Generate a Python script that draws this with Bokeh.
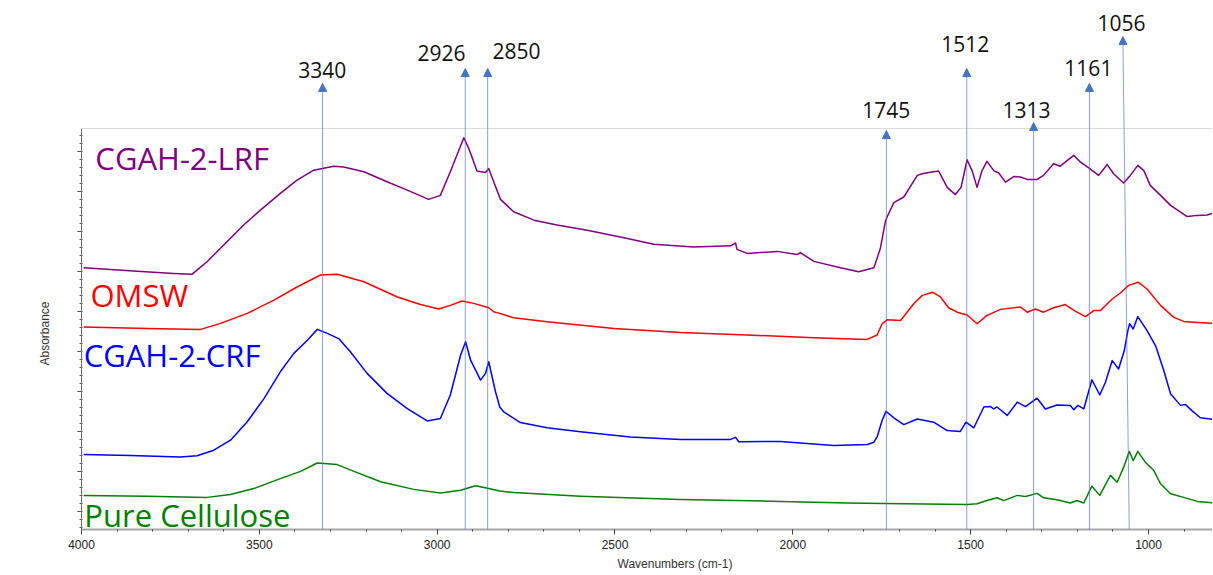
from bokeh.plotting import figure
from bokeh.models import (Range1d, FixedTicker, Span, Arrow, NormalHead, Title,
                          ColumnDataSource, CustomJSTickFormatter)
from bokeh.core.properties import value
from bokeh.embed import file_html
from bokeh.resources import INLINE

# ---------------- data (wavenumber cm-1, absorbance a.u.) ----------------
lrf_wn = [3994, 3854, 3741, 3689, 3647, 3600, 3544, 3497, 3441, 3394,
          3347, 3291, 3263, 3206, 3141, 3084, 3024, 2991, 2963, 2925,
          2911, 2888, 2864, 2855, 2841, 2822, 2785, 2728, 2663, 2578,
          2475, 2391, 2279, 2175, 2161, 2157, 2128, 2044, 1988, 1979,
          1941, 1866, 1815, 1772, 1754, 1740, 1735, 1716, 1688, 1650,
          1636, 1613, 1590, 1566, 1543, 1527, 1510, 1496, 1482, 1468,
          1454, 1435, 1421, 1402, 1379, 1360, 1341, 1313, 1295, 1267,
          1248, 1229, 1210, 1191, 1168, 1140, 1116, 1098, 1070, 1051,
          1030, 1013, 995, 966, 938, 910, 891, 863, 835, 817]
lrf_abs = [0.610, 0.602, 0.596, 0.594, 0.625, 0.667, 0.717, 0.754, 0.796, 0.829,
           0.854, 0.864, 0.862, 0.850, 0.825, 0.804, 0.781, 0.791, 0.850, 0.935,
           0.908, 0.852, 0.848, 0.858, 0.825, 0.781, 0.750, 0.729, 0.717, 0.704,
           0.685, 0.669, 0.662, 0.665, 0.672, 0.656, 0.646, 0.651, 0.643, 0.648,
           0.626, 0.610, 0.600, 0.610, 0.658, 0.725, 0.737, 0.773, 0.787, 0.841,
           0.845, 0.849, 0.852, 0.811, 0.793, 0.811, 0.880, 0.853, 0.811, 0.853,
           0.876, 0.853, 0.847, 0.824, 0.838, 0.837, 0.831, 0.831, 0.841, 0.870,
           0.864, 0.878, 0.891, 0.874, 0.860, 0.841, 0.868, 0.845, 0.822, 0.841,
           0.866, 0.853, 0.816, 0.791, 0.766, 0.749, 0.738, 0.741, 0.742, 0.747]

omsw_wn = [3994, 3815, 3665, 3609, 3534, 3459, 3394, 3328, 3281, 3206,
           3112, 3047, 2995, 2963, 2930, 2897, 2855, 2841, 2824, 2785,
           2691, 2503, 2316, 2128, 1941, 1791, 1763, 1749, 1740, 1735,
           1697, 1660, 1636, 1607, 1585, 1562, 1538, 1510, 1482, 1454,
           1416, 1360, 1341, 1318, 1295, 1267, 1234, 1205, 1177, 1154,
           1135, 1102, 1079, 1056, 1029, 1004, 966, 929, 901, 873, 817]
omsw_abs = [0.462, 0.458, 0.456, 0.471, 0.496, 0.529, 0.562, 0.592, 0.594, 0.575,
            0.537, 0.518, 0.507, 0.516, 0.527, 0.521, 0.510, 0.500, 0.496, 0.485,
            0.475, 0.458, 0.448, 0.442, 0.435, 0.431, 0.442, 0.470, 0.476, 0.480,
            0.478, 0.520, 0.541, 0.549, 0.537, 0.510, 0.499, 0.492, 0.470, 0.491,
            0.506, 0.512, 0.499, 0.507, 0.499, 0.510, 0.518, 0.501, 0.488, 0.503,
            0.503, 0.532, 0.547, 0.566, 0.574, 0.557, 0.516, 0.486, 0.476, 0.474, 0.471]

crf_wn = [3994, 3862, 3722, 3675, 3628, 3581, 3534, 3487, 3441, 3403,
          3365, 3337, 3309, 3277, 3244, 3197, 3141, 3084, 3028, 2991,
          2963, 2934, 2920, 2906, 2878, 2864, 2855, 2836, 2824, 2813,
          2766, 2691, 2597, 2457, 2316, 2175, 2161, 2152, 2035, 1885,
          1791, 1772, 1763, 1749, 1738, 1716, 1688, 1650, 1604, 1566,
          1529, 1513, 1491, 1463, 1444, 1435, 1426, 1397, 1369, 1346,
          1313, 1290, 1257, 1220, 1210, 1199, 1182, 1159, 1137, 1121,
          1102, 1084, 1068, 1058, 1053, 1043, 1030, 1004, 980, 957,
          938, 910, 896, 878, 854, 817]
crf_abs = [0.143, 0.141, 0.137, 0.140, 0.154, 0.179, 0.225, 0.283, 0.350, 0.396,
           0.429, 0.456, 0.446, 0.433, 0.400, 0.346, 0.296, 0.258, 0.227, 0.233,
           0.292, 0.392, 0.425, 0.379, 0.329, 0.346, 0.375, 0.300, 0.262, 0.250,
           0.223, 0.210, 0.200, 0.187, 0.181, 0.181, 0.186, 0.175, 0.176, 0.166,
           0.168, 0.174, 0.187, 0.228, 0.251, 0.235, 0.218, 0.232, 0.224, 0.203,
           0.201, 0.224, 0.210, 0.262, 0.263, 0.257, 0.262, 0.241, 0.274, 0.263,
           0.284, 0.257, 0.267, 0.266, 0.255, 0.266, 0.257, 0.330, 0.292, 0.324,
           0.378, 0.357, 0.403, 0.453, 0.470, 0.457, 0.488, 0.453, 0.415, 0.353,
           0.295, 0.266, 0.268, 0.253, 0.235, 0.231]

cel_wn = [3994, 3815, 3647, 3581, 3516, 3441, 3384, 3337, 3281, 3234,
          3159, 3066, 2991, 2934, 2892, 2855, 2824, 2785, 2597, 2316,
          2035, 1847, 1744, 1510, 1482, 1454, 1426, 1407, 1369, 1346,
          1313, 1295, 1257, 1220, 1201, 1182, 1159, 1137, 1107, 1088,
          1070, 1054, 1043, 1030, 1009, 985, 966, 938, 901, 863, 817]
cel_abs = [0.041, 0.039, 0.036, 0.043, 0.058, 0.083, 0.101, 0.122, 0.118, 0.101,
           0.075, 0.056, 0.047, 0.054, 0.065, 0.058, 0.052, 0.048, 0.039, 0.031,
           0.026, 0.022, 0.021, 0.018, 0.020, 0.028, 0.035, 0.028, 0.041, 0.038,
           0.046, 0.035, 0.030, 0.022, 0.028, 0.022, 0.064, 0.041, 0.091, 0.074,
           0.111, 0.151, 0.128, 0.151, 0.124, 0.103, 0.070, 0.045, 0.036, 0.026, 0.022]

series_names = ["CGAH-2-LRF", "OMSW", "CGAH-2-CRF", "Pure Cellulose"]
series_colors = ["#800080", "#ff0000", "#0000ff", "#008000"]

# peak annotations
peak_labels = ["3340", "2926", "2850", "1745", "1512", "1313", "1161", "1056"]

x_ticks = [4000, 3500, 3000, 2500, 2000, 1500, 1000]

# ---------------- layout (positions of labels / arrows) ----------------
name_x = [3961, 3975, 3994, 3992]
name_y = [0.8845, 0.543, 0.392, -0.009]
arrow_top_x = [3322, 2921, 2858, 1737, 1511, 1323, 1166, 1072]
arrow_base_x = [3322, 2921, 2858, 1737, 1511, 1323, 1166, 1054]
arrow_tip_y = [1.071, 1.108, 1.108, 0.953, 1.108, 0.973, 1.071, 1.188]
peak_text_x = [3323, 2988, 2777, 1737, 1515, 1343, 1169, 1076]
peak_text_y = [1.104, 1.146, 1.151, 1.004, 1.169, 1.004, 1.109, 1.222]

Y0, Y1 = -0.0443, 1.2582
FRAME_TOP = 0.958

p = figure(width=1212, height=574, output_backend="svg", toolbar_location=None,
           x_range=Range1d(4000, 820), y_range=Range1d(Y0, Y1),
           min_border_left=81, min_border_right=0, min_border_top=8,
           min_border_bottom=45)
p.outline_line_color = None
p.xgrid.visible = False
p.ygrid.visible = False
p.background_fill_color = "white"
p.border_fill_color = "white"

# top frame line
p.add_layout(Span(location=FRAME_TOP, dimension="width", line_color="#d9d9d9",
                  line_width=1))

# peak arrows
arrow_src = ColumnDataSource(dict(x0=arrow_base_x, y0=[Y0] * len(arrow_base_x),
                                  x1=arrow_top_x, y1=arrow_tip_y))
p.add_layout(Arrow(end=NormalHead(size=8, fill_color="#4472c4",
                                  line_color="#4472c4", line_width=1),
                   x_start="x0", y_start="y0", x_end="x1", y_end="y1",
                   source=arrow_src, line_color="#4472c4", line_alpha=0.65,
                   line_width=1))

# spectra
for wn, ab, col in [(lrf_wn, lrf_abs, series_colors[0]),
                    (omsw_wn, omsw_abs, series_colors[1]),
                    (crf_wn, crf_abs, series_colors[2]),
                    (cel_wn, cel_abs, series_colors[3])]:
    p.line(wn, ab, line_color=col, line_width=1.5, line_join="round")

# series names
name_src = ColumnDataSource(dict(x=name_x, y=name_y, text=series_names,
                                 color=series_colors))
p.text(x="x", y="y", text="text", text_color="color", source=name_src,
       text_font=value("Open Sans"), text_font_size="31px",
       text_align="left", text_baseline="middle")

p.text(x=peak_text_x, y=peak_text_y, text=peak_labels,
       text_font=value("Open Sans"), text_font_size="21px", text_color="#111111",
       text_align="center", text_baseline="middle")

# x axis
xa = p.xaxis[0]
xa.ticker = FixedTicker(ticks=x_ticks, minor_ticks=list(range(900, 4001, 100)))
xa.axis_line_color = "#a6a6a6"
xa.axis_line_width = 2
xa.major_tick_line_color = "#404040"
xa.major_tick_in = 0
xa.major_tick_out = 5
xa.minor_tick_line_color = "#404040"
xa.minor_tick_in = 0
xa.minor_tick_out = 2
xa.major_label_text_font = "Liberation Sans"
xa.major_label_text_font_size = "12px"
xa.major_label_text_color = "#222222"
xa.major_label_standoff = 5

# y axis (no labels)
ya = p.yaxis[0]
ya.bounds = (Y0, FRAME_TOP)
ya.ticker = FixedTicker(ticks=[round(0.1 * i, 2) for i in range(10)],
                        minor_ticks=[round(0.02 * i, 2) for i in range(-2, 48)])
ya.formatter = CustomJSTickFormatter(code="return ''")
ya.axis_line_color = "#707070"
ya.major_tick_line_color = "#404040"
ya.major_tick_in = 0
ya.major_tick_out = 4
ya.minor_tick_line_color = "#606060"
ya.minor_tick_in = 1
ya.minor_tick_out = 2

# axis titles
p.add_layout(Title(text="Wavenumbers (cm-1)", align="left", offset=536,
                   standoff=6, text_font="Liberation Sans", text_font_size="12px",
                   text_font_style="normal", text_color="#333333"), "below")
p.add_layout(Title(text="Absorbance", align="left", offset=164,
                   standoff=51, text_font="Liberation Sans", text_font_size="12px",
                   text_font_style="normal", text_color="#333333"), "left")

open("out.html", "w").write(file_html(p, INLINE))
